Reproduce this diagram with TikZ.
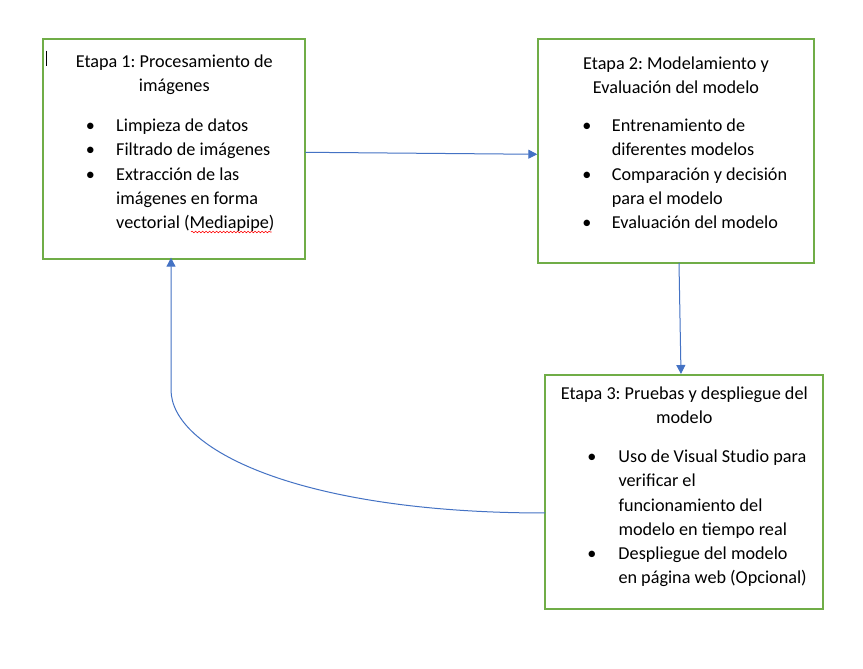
\documentclass[tikz,border=0pt]{standalone}
\usepackage{fontspec}
\setmainfont{Carlito}
\usetikzlibrary{arrows.meta,decorations.pathmorphing,calc}
\definecolor{boxgreen}{HTML}{70AD47}
\definecolor{arrowblue}{HTML}{4472C4}
\newcommand\blt{\makebox[0pt]{\textbullet}}
\frenchspacing
\begin{document}
\begin{tikzpicture}[x=1pt,y=1pt,
  font=\fontsize{18.2}{24.2}\selectfont\frenchspacing,
  stagebox/.style={draw=boxgreen, line width=2pt, inner sep=0pt, outer sep=0pt},
  flow/.style={draw=arrowblue, line width=1pt, -{Triangle[length=9pt,width=9pt]}},
  titletext/.style={anchor=base, inner sep=0pt},
  listtext/.style={anchor=base west, inner sep=0pt}]
\fill[white] (0,0) rectangle (863,669);
\useasboundingbox (0,0) rectangle (863,669);
% boxes
\node[stagebox, minimum width=262pt, minimum height=219.4pt] (b1) at (174.3,520) {};
\node[stagebox, minimum width=275.4pt, minimum height=223.7pt] (b2) at (676,517.85) {};
\node[stagebox, minimum width=278pt, minimum height=234pt] (b3) at (684,177) {};
% titles
\node[titletext] (t1) at (174.3,601.5) {\begin{tabular}[t]{@{}c@{}}Etapa 1: Procesamiento de\\ imágenes\end{tabular}};
\node[titletext] (t2) at (676,599.7) {\begin{tabular}[t]{@{}c@{}}Etapa 2: Modelamiento y\\ Evaluación del modelo\end{tabular}};
\node[titletext] (t3) at (684.3,269.7) {\begin{tabular}[t]{@{}c@{}}Etapa 3: Pruebas y despliegue del\\ modelo\end{tabular}};
% lists
\node[listtext] (l1) at (90.3,537.3) {\begin{tabular}[t]{@{}p{25.7pt}@{}l@{}}
\blt & Limpieza de datos\\
\blt & Filtrado de imágenes\\
\blt & Extracción de las\\
 & imágenes en forma\\
 & vectorial (Mediapipe)\end{tabular}};
\node[listtext] (l2) at (586.7,537.3) {\begin{tabular}[t]{@{}p{25pt}@{}l@{}}
\blt & Entrenamiento de\\
 & diferentes modelos\\
\blt & Comparación y decisión\\
 & para el modelo\\
\blt & Evaluación del modelo\end{tabular}};
\node[listtext] (l3) at (591.7,206.3) {\begin{tabular}[t]{@{}p{26.6pt}@{}l@{}}
\blt & Uso de Visual Studio para\\
 & verificar el\\
 & funcionamiento del\\
 & modelo en tiempo real\\
\blt & Despliegue del modelo\\
 & en página web (Opcional)\end{tabular}};
% cursor and spell-check mark
\draw[line width=1pt] (46.5,618.3) -- (46.5,603.3);
\draw[red, line width=0.6pt, decorate, decoration={snake, amplitude=0.8pt, segment length=3.5pt}] (191,437) -- (271.7,437);
% connectors
\coordinate (s1) at ($(b1.north east)+(0,-113)$);
\coordinate (e1) at ($(b2.north west)+(-1,-115)$);
\draw[flow] (s1) -- (e1);
\coordinate (s2) at ($(b2.south)+(3,0)$);
\coordinate (e2) at ($(b3.north)+(-3,1)$);
\draw[flow] (s2) -- (e2);
\coordinate (s3) at ($(b3.north west)+(0,-138)$);
\coordinate (bend) at ($(b1.south west)+(127.7,-131)$);
\coordinate (e3) at ($(b1.south west)+(127.7,1)$);
\draw[flow] (s3) .. controls ($(s3)+(-245,0)$) and ($(bend)+(0,-60)$) .. (bend) -- (e3);
\end{tikzpicture}
\end{document}
